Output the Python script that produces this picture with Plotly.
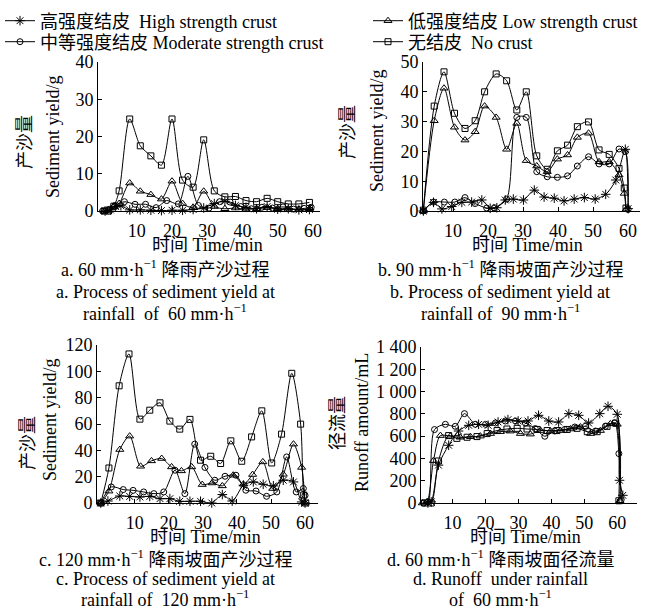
import plotly.graph_objects as go

# ---------------- Panel a: 60 mm/h sediment yield (g) ----------------
A_HIGH_T = [1, 2.5, 4, 5.5, 8, 11, 14, 17, 20, 23, 26, 29, 32, 35, 38, 41, 44, 47, 50, 53, 56, 59]
A_HIGH_V = [0, 0.3, 1.2, 1.4, 0.3, 0.3, 0.2, 0.1, 0.2, 0.2, 0.4, 0.8, 2.0, 2.6, 1.5, 1.0, 0.6, 1.2, 0.5, 0.6, 0.3, 0.4]
A_LOW_T = [0.8, 2, 3.5, 5, 8, 11, 14, 17, 20, 23, 26, 29, 32, 35, 38, 41, 44, 47, 50, 53, 56, 59]
A_LOW_V = [0, 0.3, 1.3, 2.0, 7.5, 5.3, 4.4, 3.2, 8.0, 2.0, 1.0, 5.3, 1.2, 0.6, 0.8, 0.5, 0.6, 0.9, 0.6, 0.5, 0.4, 0.6]
A_MOD_T = [0.3, 2, 3.8, 6.5, 9.5, 12.5, 15.5, 18.5, 21.8, 24.5, 27.5, 30.5, 33.5, 36.5, 39.5, 42.5, 45.5, 48.5, 51.5, 54.5, 57.5, 59.5]
A_MOD_V = [0, 0.4, 1.4, 2.5, 1.8, 1.8, 0.9, 2.8, 1.9, 9.3, 1.5, 0.8, 2.5, 2.4, 1.2, 0.6, 1.0, 0.8, 1.1, 0.5, 0.7, 1.0]
A_NONE_T = [0.8, 2, 3.5, 5, 8, 11, 14, 17, 20, 23, 26, 29, 32, 35, 38, 41, 44, 47, 50, 53, 56, 59]
A_NONE_V = [0, 0, 1.3, 5.4, 24.7, 17.5, 14.8, 12.3, 24.7, 8.3, 6.4, 19.1, 5.4, 3.8, 3.9, 2.8, 2.5, 3.4, 2.5, 1.9, 1.9, 2.3]

# ---------------- Panel b: 90 mm/h sediment yield (g) ----------------
B_HIGH_T = [1.5, 4.4, 6.8, 9.6, 12.5, 15.3, 18.2, 20.6, 22.5, 24.9, 27.2, 30.1, 33.2, 36.0, 38.9, 41.7, 44.6, 47.5, 50.6, 53.6, 56.5, 59.2, 60.0]
B_HIGH_V = [0, 2.9, 0.7, 1.5, 2.9, 3.0, 3.7, 0.9, 1.1, 3.7, 4.0, 3.7, 7.0, 4.7, 4.3, 3.4, 4.0, 4.5, 4.0, 5.6, 10.4, 20.7, 0.8]
B_LOW_T = [1.5, 4.6, 7.4, 10.4, 13.4, 16.3, 19.0, 22.3, 25.3, 28.2, 30.9, 33.9, 36.9, 39.8, 42.7, 45.5, 48.7, 51.7, 54.6, 57.4, 58.9, 59.4]
B_LOW_V = [0, 30.3, 41.2, 28.1, 23.8, 26.6, 35.2, 31.4, 20.7, 29.4, 16.9, 15.1, 13.2, 17.4, 18.8, 24.7, 26.1, 16.5, 16.5, 12.1, 5.9, 0.5]
B_MOD_T = [1.5, 4.4, 7.5, 10.5, 13.4, 16.3, 19.6, 21.8, 25.3, 28.2, 30.9, 33.9, 36.9, 39.8, 42.7, 45.5, 48.7, 51.7, 54.6, 57.4, 59.2, 60.0]
B_MOD_V = [0, 3.0, 3.0, 3.0, 4.5, 2.5, 1.0, 1.1, 4.0, 31.4, 31.4, 13.2, 11.5, 11.3, 11.8, 15.1, 18.2, 15.8, 15.8, 20.8, 19.9, 0.5]
B_NONE_T = [1.5, 4.6, 7.4, 10.4, 13.4, 16.3, 19.0, 22.3, 25.3, 28.2, 30.9, 33.9, 36.9, 39.8, 42.7, 45.5, 48.7, 51.7, 54.6, 57.4, 58.9, 59.4]
B_NONE_V = [0.3, 35.2, 46.7, 32.8, 27.7, 30.3, 40.0, 46.0, 43.7, 33.9, 40.0, 18.5, 14.0, 20.2, 22.1, 28.3, 29.9, 20.5, 19.0, 14.3, 7.7, 1.0]

# ---------------- Panel c: 120 mm/h sediment yield (g) ----------------
C_HIGH_T = [0, 2.1, 5.6, 8.5, 11.5, 14.4, 17.4, 20.3, 23.2, 26.2, 29.3, 32.6, 35.7, 38.6, 41.9, 44.8, 47.7, 50.7, 53.6, 56.6, 59.0, 60.0]
C_HIGH_V = [0, 1.5, 5.3, 5.0, 4.6, 5.0, 3.3, 3.3, 1.3, 1.3, 1.3, 0, 6.4, 1.5, 13.5, 16, 14.2, 13, 17.3, 16, 0.8, 0]
C_LOW_T = [0, 2.4, 5.6, 8.5, 11.7, 14.9, 17.9, 20.8, 23.7, 26.7, 29.8, 32.7, 35.7, 38.9, 41.9, 44.6, 47.6, 50.5, 53.6, 56.6, 59.0, 60.0]
C_LOW_V = [0, 9, 40.6, 50.8, 27.9, 32, 33.8, 27.4, 24.4, 27.4, 14, 15.2, 13, 21.1, 14.2, 21.6, 31.2, 11, 21.8, 44.7, 27, 0]
C_MOD_T = [0, 3.1, 6.6, 9.5, 12.6, 15.6, 18.5, 21.8, 24.7, 27.6, 30.6, 33.5, 36.5, 39.7, 42.6, 45.6, 48.7, 51.7, 54.6, 57.4, 59.5, 60.0]
C_MOD_V = [0, 12.2, 10.2, 9.6, 8.4, 7.1, 8.4, 24.9, 7.1, 44.7, 27, 17.3, 20.3, 21.1, 9.7, 9.1, 5.1, 8.4, 35, 8.4, 11, 5.8]
C_NONE_T = [0, 2.4, 5.4, 8.3, 11.5, 14.4, 17.4, 20.3, 23.2, 26.2, 29.3, 32.3, 35.2, 38.2, 41.4, 44.3, 47.3, 50.2, 53.1, 56.1, 58.7, 59.6, 60.2]
C_NONE_V = [0, 26.6, 89, 113.2, 63.7, 70.5, 76.1, 62.2, 56.1, 63.5, 32.5, 35.5, 30, 47.2, 31.7, 50.2, 70, 30.4, 52.3, 98.5, 59.9, 6, 0]

# ---------------- Panel d: 60 mm/h runoff (mL) ----------------
D_HIGH_T = [2.5, 3.5, 5.7, 8.8, 11.8, 14.9, 17.9, 20.8, 23.8, 26.8, 29.9, 32.9, 36.1, 39.2, 42.2, 45.3, 48.3, 51.3, 54.7, 57.2, 60.0, 60.7, 61.7]
D_HIGH_V = [0, 10, 340, 518, 646, 697, 706, 697, 727, 748, 736, 736, 787, 736, 727, 802, 787, 718, 802, 868, 796, 204, 69]
D_LOW_T = [0.8, 2.2, 4.2, 6.3, 9.3, 12.3, 15.4, 18.4, 21.5, 24.5, 27.5, 30.6, 33.6, 36.7, 39.7, 42.7, 45.8, 48.8, 51.9, 54.9, 57.9, 60.0, 60.8]
D_LOW_V = [0, 10, 380, 605, 599, 590, 595, 600, 623, 640, 645, 623, 618, 650, 646, 650, 664, 682, 623, 650, 710, 706, 20]
D_MOD_T = [1.2, 2.6, 4.5, 7.8, 10.8, 13.6, 16.9, 20.0, 23.0, 26.0, 29.1, 32.1, 35.1, 38.0, 41.0, 44.0, 47.1, 50.3, 53.4, 56.4, 59.2, 60.5, 61.2]
D_MOD_V = [0, 10, 659, 706, 688, 802, 706, 706, 718, 736, 736, 718, 668, 599, 646, 659, 682, 688, 646, 688, 718, 443, 30]
D_NONE_T = [1.5, 3.5, 5.7, 8.8, 11.3, 14.4, 17.4, 20.5, 23.5, 26.5, 29.6, 32.6, 35.7, 38.7, 41.7, 44.8, 47.8, 50.9, 53.9, 56.9, 59.5, 60.5]
D_NONE_V = [0, 0, 377, 605, 580, 590, 596, 623, 650, 664, 670, 664, 660, 650, 650, 660, 670, 640, 640, 688, 718, 20]

SERIES_NAMES = ["高强度结皮  High strength crust", "低强度结皮 Low strength crust",
                "中等强度结皮 Moderate strength crust", "无结皮  No crust"]
X_TICKS = [10, 20, 30, 40, 50, 60]
A_Y_TICKS = [0, 10, 20, 30, 40]
B_Y_TICKS = [0, 10, 20, 30, 40, 50]
C_Y_TICKS = [0, 20, 40, 60, 80, 100, 120]
D_Y_TICKS = [0, 200, 400, 600, 800, 1000, 1200, 1400]
D_Y_TICKTEXT = ["0", "200", "400", "600", "800", "1 000", "1 200", "1 400"]

W, H = 670, 610
FONT = "Liberation Serif, Times New Roman, Noto Sans CJK SC"

SYMBOLS = ["asterisk-open", "triangle-up-open", "circle-open", "square-open"]
SIZES = [8, 7, 6, 6]

fig = go.Figure()

panels = [
    ("x", "y", [(A_HIGH_T, A_HIGH_V), (A_LOW_T, A_LOW_V), (A_MOD_T, A_MOD_V), (A_NONE_T, A_NONE_V)]),
    ("x2", "y2", [(B_HIGH_T, B_HIGH_V), (B_LOW_T, B_LOW_V), (B_MOD_T, B_MOD_V), (B_NONE_T, B_NONE_V)]),
    ("x3", "y3", [(C_HIGH_T, C_HIGH_V), (C_LOW_T, C_LOW_V), (C_MOD_T, C_MOD_V), (C_NONE_T, C_NONE_V)]),
    ("x4", "y4", [(D_HIGH_T, D_HIGH_V), (D_LOW_T, D_LOW_V), (D_MOD_T, D_MOD_V), (D_NONE_T, D_NONE_V)]),
]

# one legend box per entry: (legend id, x px, y px of row centre)
LEGEND_POS = [("legend", 0, 21), ("legend2", 368, 21), ("legend3", 0, 42), ("legend4", 368, 42)]

for pi, (xa, ya, series) in enumerate(panels):
    for si, (t, v) in enumerate(series):
        fig.add_trace(go.Scatter(
            x=t, y=v, xaxis=xa, yaxis=ya, mode="lines+markers",
            name=SERIES_NAMES[si],
            line=dict(color="black", width=1, shape="spline", smoothing=0.8),
            marker=dict(symbol=SYMBOLS[si], size=SIZES[si], color="black",
                        line=dict(color="black", width=1)),
            cliponaxis=False,
            showlegend=(pi == 0),
            legend=LEGEND_POS[si][0],
        ))

def px_dom_x(a, b):
    return [a / W, b / W]

def px_dom_y(top, bottom):
    return [1 - bottom / H, 1 - top / H]

axis_common = dict(showline=True, linecolor="black", linewidth=1, ticks="inside",
                   ticklen=4, tickcolor="black", showgrid=False, zeroline=False,
                   automargin=False,
                   tickfont=dict(family=FONT, size=18, color="black"))
xcommon = dict(axis_common, ticklabelstandoff=3)

layout_legends = {}
for lid, lx, ly in LEGEND_POS:
    layout_legends[lid] = dict(x=lx / W, y=1 - ly / H, xref="paper", yref="paper",
                               xanchor="left", yanchor="middle", orientation="v",
                               font=dict(family=FONT, size=18, color="black"),
                               bgcolor="rgba(0,0,0,0)", borderwidth=0,
                               tracegroupgap=0, itemwidth=30)

fig.update_layout(
    width=W, height=H, margin=dict(l=0, r=0, t=0, b=0, pad=0, autoexpand=False),
    paper_bgcolor="white", plot_bgcolor="white",
    font=dict(family=FONT, size=18, color="black"),
    xaxis=dict(domain=px_dom_x(98, 320), range=[-1, 62], tickvals=X_TICKS, anchor="y", **xcommon),
    yaxis=dict(domain=px_dom_y(62, 211), range=[0, 40], tickvals=A_Y_TICKS, anchor="x", **axis_common),
    xaxis2=dict(domain=px_dom_x(423, 640), range=[1.4, 63.4], tickvals=X_TICKS, anchor="y2", **xcommon),
    yaxis2=dict(domain=px_dom_y(62, 211), range=[0, 50], tickvals=B_Y_TICKS, anchor="x2", **axis_common),
    xaxis3=dict(domain=px_dom_x(97, 318), range=[-1.1, 63.8], tickvals=X_TICKS, anchor="y3", **xcommon),
    yaxis3=dict(domain=px_dom_y(345, 503), range=[0, 120], tickvals=C_Y_TICKS, anchor="x3", **axis_common),
    xaxis4=dict(domain=px_dom_x(421, 637), range=[0.4, 66], tickvals=X_TICKS, anchor="y4", **xcommon),
    yaxis4=dict(domain=px_dom_y(347, 503), range=[0, 1400], tickvals=D_Y_TICKS, ticktext=D_Y_TICKTEXT,
                anchor="x4", **axis_common),
    **layout_legends,
)

def ann(text, x, y, size=18, angle=0):
    fig.add_annotation(text=text, x=x / W, y=1 - y / H, xref="paper", yref="paper",
                       showarrow=False, textangle=angle, xanchor="center", yanchor="middle",
                       font=dict(family=FONT, size=size, color="black"))

# y-axis titles
ann("产沙量", 25, 142, angle=-90)
ann("Sediment yield/g", 53, 137, angle=-90)
ann("产沙量", 348, 132, angle=-90)
ann("Sediment yield/g", 377, 131, angle=-90)
ann("产沙量", 28, 443, angle=-90)
ann("Sediment yield/g", 50, 420, angle=-90)
ann("径流量", 338, 423, angle=-90)
ann("Runoff amount/mL", 362, 423, angle=-90)

# x-axis titles
ann("时间 Time/min", 207, 245)
ann("时间 Time/min", 527, 245)
ann("时间 Time/min", 205, 537)
ann("时间 Time/min", 525, 537)

# captions
ann("a. 60 mm·h<sup>−1</sup> 降雨产沙过程", 165, 268)
ann("a. Process of sediment yield at", 165, 292)
ann("rainfall  of  60 mm·h<sup>−1</sup>", 165, 312)
ann("b. 90 mm·h<sup>−1</sup> 降雨坡面产沙过程", 500, 268)
ann("b. Process of sediment yield at", 500, 292)
ann("rainfall of  90 mm·h<sup>−1</sup>", 500, 312)
ann("c. 120 mm·h<sup>−1</sup> 降雨坡面产沙过程", 165, 558)
ann("c. Process of sediment yield at", 165, 579)
ann("rainfall of  120 mm·h<sup>−1</sup>", 165, 598)
ann("d. 60 mm·h<sup>−1</sup> 降雨坡面径流量", 500, 558)
ann("d. Runoff  under rainfall", 500, 579)
ann("of  60 mm·h<sup>−1</sup>", 500, 598)

fig.write_html("out.html", config={"displayModeBar": False},
               post_script="document.body.style.margin='0';")
